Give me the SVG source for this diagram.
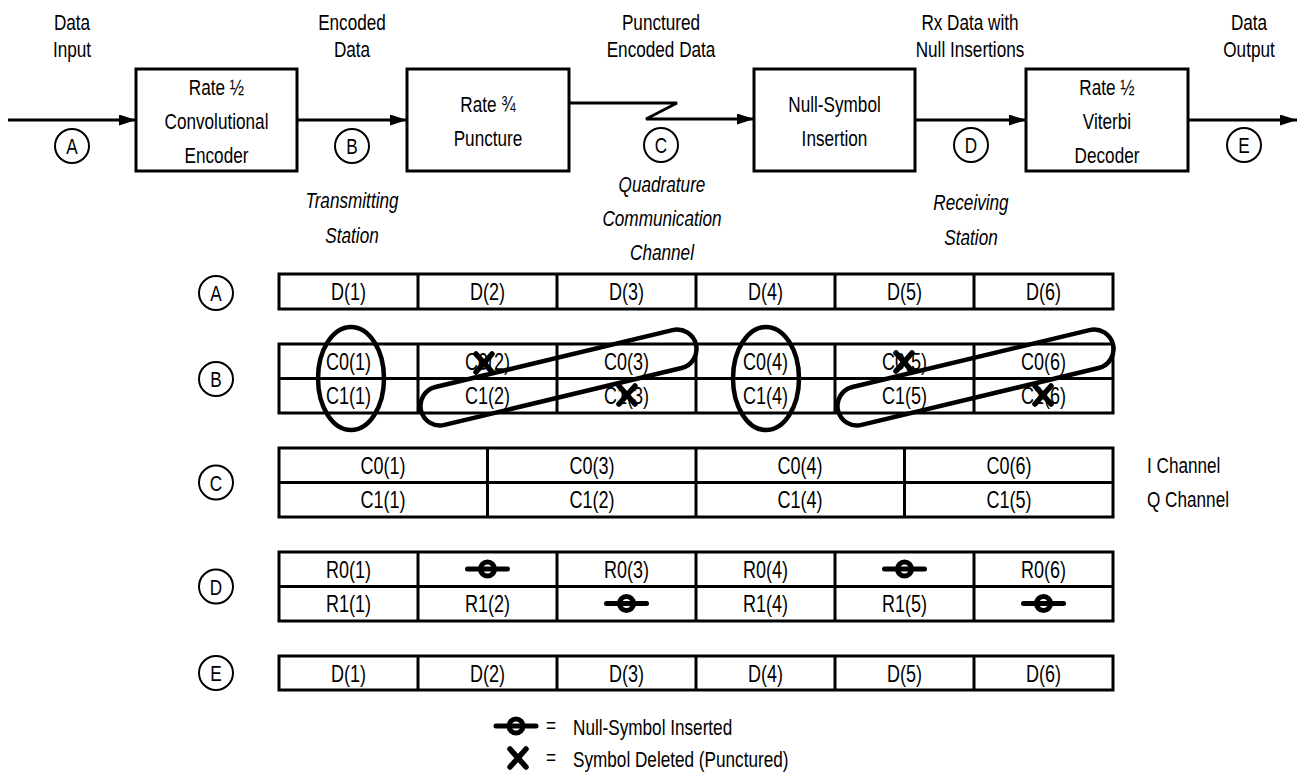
<svg xmlns="http://www.w3.org/2000/svg" width="1299" height="776" viewBox="0 0 1299 776">
<style>
text{font-family:"Liberation Sans",Arial,sans-serif;fill:#000;text-anchor:middle}
.lbl{font-size:22px}
.it{font-size:22px;font-style:italic}
.cell{font-size:24px}
.box{fill:#fff;stroke:#000;stroke-width:3}
.ln{fill:none;stroke:#000;stroke-width:2.8}
.tb{fill:none;stroke:#000;stroke-width:3}
.circ{fill:#fff;stroke:#000;stroke-width:2}
.ring{fill:none;stroke:#000;stroke-width:4.5}
.xm{stroke:#000;stroke-width:5.5;stroke-linecap:round}
.nb{stroke:#000;stroke-width:5;stroke-linecap:round}
.nc{fill:none;stroke:#000;stroke-width:5}
.start{text-anchor:start}
</style>
<defs>
<marker id="ah" markerWidth="18" markerHeight="11" refX="17" refY="5.5" orient="auto" markerUnits="userSpaceOnUse">
<path d="M0,0 L17,5.5 L0,11 Z" fill="#000"/>
</marker>
<g id="nullsym"><line class="nb" x1="-20" y1="0" x2="20" y2="0"/><circle class="nc" cx="0" cy="0" r="7"/></g>
<g id="xsym"><line class="xm" x1="-8" y1="-9" x2="8" y2="9"/><line class="xm" x1="8" y1="-9" x2="-8" y2="9"/></g>
</defs>
<rect width="1299" height="776" fill="#fff"/>

<g id="connectors">
<line class="ln" x1="8" y1="120" x2="136" y2="120" marker-end="url(#ah)"/>
<line class="ln" x1="297" y1="120" x2="407" y2="120" marker-end="url(#ah)"/>
<polyline class="ln" points="569,103 677,103 646,119 754,119" marker-end="url(#ah)"/>
<line class="ln" x1="915" y1="120" x2="1026" y2="120" marker-end="url(#ah)"/>
<line class="ln" x1="1188" y1="120" x2="1297" y2="120" marker-end="url(#ah)"/>
</g>

<g id="labels-top">
<text class="lbl" transform="translate(72,30) scale(0.78,1)">Data</text><text class="lbl" transform="translate(72,57) scale(0.78,1)">Input</text>
<text class="lbl" transform="translate(352,30) scale(0.78,1)">Encoded</text><text class="lbl" transform="translate(352,57) scale(0.78,1)">Data</text>
<text class="lbl" transform="translate(661,30) scale(0.78,1)">Punctured</text><text class="lbl" transform="translate(661,57) scale(0.78,1)">Encoded Data</text>
<text class="lbl" transform="translate(970,30) scale(0.78,1)">Rx Data with</text><text class="lbl" transform="translate(970,57) scale(0.78,1)">Null Insertions</text>
<text class="lbl" transform="translate(1249,30) scale(0.78,1)">Data</text><text class="lbl" transform="translate(1249,57) scale(0.78,1)">Output</text>
<text class="it" transform="translate(352,208) scale(0.78,1)">Transmitting</text><text class="it" transform="translate(352,243) scale(0.78,1)">Station</text>
<text class="it" transform="translate(662,192) scale(0.78,1)">Quadrature</text><text class="it" transform="translate(662,226) scale(0.78,1)">Communication</text><text class="it" transform="translate(662,260) scale(0.78,1)">Channel</text>
<text class="it" transform="translate(971,210) scale(0.78,1)">Receiving</text><text class="it" transform="translate(971,245) scale(0.78,1)">Station</text>
</g>

<g id="encoder">
<rect class="box" x="136" y="69" width="161" height="102"/>
<text class="lbl" transform="translate(216.5,95) scale(0.78,1)">Rate ½</text>
<text class="lbl" transform="translate(216.5,129) scale(0.78,1)">Convolutional</text>
<text class="lbl" transform="translate(216.5,163) scale(0.78,1)">Encoder</text>
</g>
<g id="puncture">
<rect class="box" x="407" y="69" width="162" height="102"/>
<text class="lbl" transform="translate(488,112) scale(0.78,1)">Rate ¾</text>
<text class="lbl" transform="translate(488,146) scale(0.78,1)">Puncture</text>
</g>
<g id="nullins">
<rect class="box" x="754" y="69" width="161" height="102"/>
<text class="lbl" transform="translate(834.5,112) scale(0.78,1)">Null-Symbol</text>
<text class="lbl" transform="translate(834.5,146) scale(0.78,1)">Insertion</text>
</g>
<g id="decoder">
<rect class="box" x="1026" y="69" width="162" height="102"/>
<text class="lbl" transform="translate(1107,95) scale(0.78,1)">Rate ½</text>
<text class="lbl" transform="translate(1107,129) scale(0.78,1)">Viterbi</text>
<text class="lbl" transform="translate(1107,163) scale(0.78,1)">Decoder</text>
</g>

<g id="points-top">
<circle class="circ" cx="72" cy="146" r="17"/><text class="lbl" transform="translate(72,154) scale(0.78,1)">A</text>
<circle class="circ" cx="352" cy="146" r="17"/><text class="lbl" transform="translate(352,154) scale(0.78,1)">B</text>
<circle class="circ" cx="661" cy="145" r="17"/><text class="lbl" transform="translate(661,153) scale(0.78,1)">C</text>
<circle class="circ" cx="971" cy="145" r="17"/><text class="lbl" transform="translate(971,153) scale(0.78,1)">D</text>
<circle class="circ" cx="1244" cy="145" r="17"/><text class="lbl" transform="translate(1244,153) scale(0.78,1)">E</text>
</g>

<g id="row-A">
<circle class="circ" cx="216" cy="293" r="17"/><text class="lbl" transform="translate(216,301) scale(0.78,1)">A</text>
<rect class="tb" x="279" y="274" width="834" height="35"/>
<path class="tb" d="M418,274V309M557,274V309M696,274V309M835,274V309M974,274V309"/>
<text class="cell" transform="translate(348.5,300) scale(0.75,1)">D(1)</text><text class="cell" transform="translate(487.5,300) scale(0.75,1)">D(2)</text><text class="cell" transform="translate(626.5,300) scale(0.75,1)">D(3)</text>
<text class="cell" transform="translate(765.5,300) scale(0.75,1)">D(4)</text><text class="cell" transform="translate(904.5,300) scale(0.75,1)">D(5)</text><text class="cell" transform="translate(1043.5,300) scale(0.75,1)">D(6)</text>
</g>

<g id="row-B">
<circle class="circ" cx="216" cy="379" r="17"/><text class="lbl" transform="translate(216,387) scale(0.78,1)">B</text>
<rect class="tb" x="279" y="344" width="834" height="69"/>
<path class="tb" d="M279,378.5H1113M418,344V413M557,344V413M696,344V413M835,344V413M974,344V413"/>
<text class="cell" transform="translate(348.5,369.5) scale(0.75,1)">C0(1)</text><text class="cell" transform="translate(487.5,369.5) scale(0.75,1)">C0(2)</text><text class="cell" transform="translate(626.5,369.5) scale(0.75,1)">C0(3)</text>
<text class="cell" transform="translate(765.5,369.5) scale(0.75,1)">C0(4)</text><text class="cell" transform="translate(904.5,369.5) scale(0.75,1)">C0(5)</text><text class="cell" transform="translate(1043.5,369.5) scale(0.75,1)">C0(6)</text>
<text class="cell" transform="translate(348.5,404) scale(0.75,1)">C1(1)</text><text class="cell" transform="translate(487.5,404) scale(0.75,1)">C1(2)</text><text class="cell" transform="translate(626.5,404) scale(0.75,1)">C1(3)</text>
<text class="cell" transform="translate(765.5,404) scale(0.75,1)">C1(4)</text><text class="cell" transform="translate(904.5,404) scale(0.75,1)">C1(5)</text><text class="cell" transform="translate(1043.5,404) scale(0.75,1)">C1(6)</text>
<use href="#xsym" x="484" y="363"/>
<use href="#xsym" x="627" y="395"/>
<use href="#xsym" x="904" y="362"/>
<use href="#xsym" x="1043" y="395"/>
<ellipse class="ring" cx="351" cy="378.5" rx="33" ry="51.5"/>
<ellipse class="ring" cx="766" cy="378.5" rx="33" ry="51.5"/>
<rect class="ring" x="-141.4" y="-19.5" width="282.8" height="39" rx="19.5" transform="translate(558.5,377.5) rotate(-13.5)"/>
<rect class="ring" x="-141.4" y="-19.5" width="282.8" height="39" rx="19.5" transform="translate(975.5,377.5) rotate(-13.5)"/>
</g>

<g id="row-C">
<circle class="circ" cx="216" cy="482.5" r="17"/><text class="lbl" transform="translate(216,490.5) scale(0.78,1)">C</text>
<rect class="tb" x="279" y="448" width="834" height="69"/>
<path class="tb" d="M279,482.5H1113M487.5,448V517M696,448V517M904.5,448V517"/>
<text class="cell" transform="translate(383,473.5) scale(0.75,1)">C0(1)</text><text class="cell" transform="translate(592,473.5) scale(0.75,1)">C0(3)</text><text class="cell" transform="translate(800,473.5) scale(0.75,1)">C0(4)</text><text class="cell" transform="translate(1009,473.5) scale(0.75,1)">C0(6)</text>
<text class="cell" transform="translate(383,508) scale(0.75,1)">C1(1)</text><text class="cell" transform="translate(592,508) scale(0.75,1)">C1(2)</text><text class="cell" transform="translate(800,508) scale(0.75,1)">C1(4)</text><text class="cell" transform="translate(1009,508) scale(0.75,1)">C1(5)</text>
<text class="lbl start" transform="translate(1147,473) scale(0.78,1)">I Channel</text>
<text class="lbl start" transform="translate(1147,507) scale(0.78,1)">Q Channel</text>
</g>

<g id="row-D">
<circle class="circ" cx="216" cy="586.5" r="17"/><text class="lbl" transform="translate(216,594.5) scale(0.78,1)">D</text>
<rect class="tb" x="279" y="552" width="834" height="69"/>
<path class="tb" d="M279,586.5H1113M418,552V621M557,552V621M696,552V621M835,552V621M974,552V621"/>
<text class="cell" transform="translate(348.5,577.5) scale(0.75,1)">R0(1)</text><text class="cell" transform="translate(626.5,577.5) scale(0.75,1)">R0(3)</text><text class="cell" transform="translate(765.5,577.5) scale(0.75,1)">R0(4)</text><text class="cell" transform="translate(1043.5,577.5) scale(0.75,1)">R0(6)</text>
<text class="cell" transform="translate(348.5,612) scale(0.75,1)">R1(1)</text><text class="cell" transform="translate(487.5,612) scale(0.75,1)">R1(2)</text><text class="cell" transform="translate(765.5,612) scale(0.75,1)">R1(4)</text><text class="cell" transform="translate(904.5,612) scale(0.75,1)">R1(5)</text>
<use href="#nullsym" x="487.5" y="569"/>
<use href="#nullsym" x="904.5" y="569"/>
<use href="#nullsym" x="626.5" y="603.5"/>
<use href="#nullsym" x="1043.5" y="603.5"/>
</g>

<g id="row-E">
<circle class="circ" cx="216" cy="673" r="17"/><text class="lbl" transform="translate(216,681) scale(0.78,1)">E</text>
<rect class="tb" x="279" y="656" width="834" height="34"/>
<path class="tb" d="M418,656V690M557,656V690M696,656V690M835,656V690M974,656V690"/>
<text class="cell" transform="translate(348.5,681.5) scale(0.75,1)">D(1)</text><text class="cell" transform="translate(487.5,681.5) scale(0.75,1)">D(2)</text><text class="cell" transform="translate(626.5,681.5) scale(0.75,1)">D(3)</text>
<text class="cell" transform="translate(765.5,681.5) scale(0.75,1)">D(4)</text><text class="cell" transform="translate(904.5,681.5) scale(0.75,1)">D(5)</text><text class="cell" transform="translate(1043.5,681.5) scale(0.75,1)">D(6)</text>
</g>

<g id="legend">
<use href="#nullsym" x="516" y="726"/>
<text class="lbl" transform="translate(551,733) scale(0.78,1)">=</text>
<text class="lbl start" transform="translate(573,735) scale(0.78,1)">Null-Symbol Inserted</text>
<use href="#xsym" x="518" y="758"/>
<text class="lbl" transform="translate(551,765) scale(0.78,1)">=</text>
<text class="lbl start" transform="translate(573,767) scale(0.78,1)">Symbol Deleted (Punctured)</text>
</g>
</svg>
